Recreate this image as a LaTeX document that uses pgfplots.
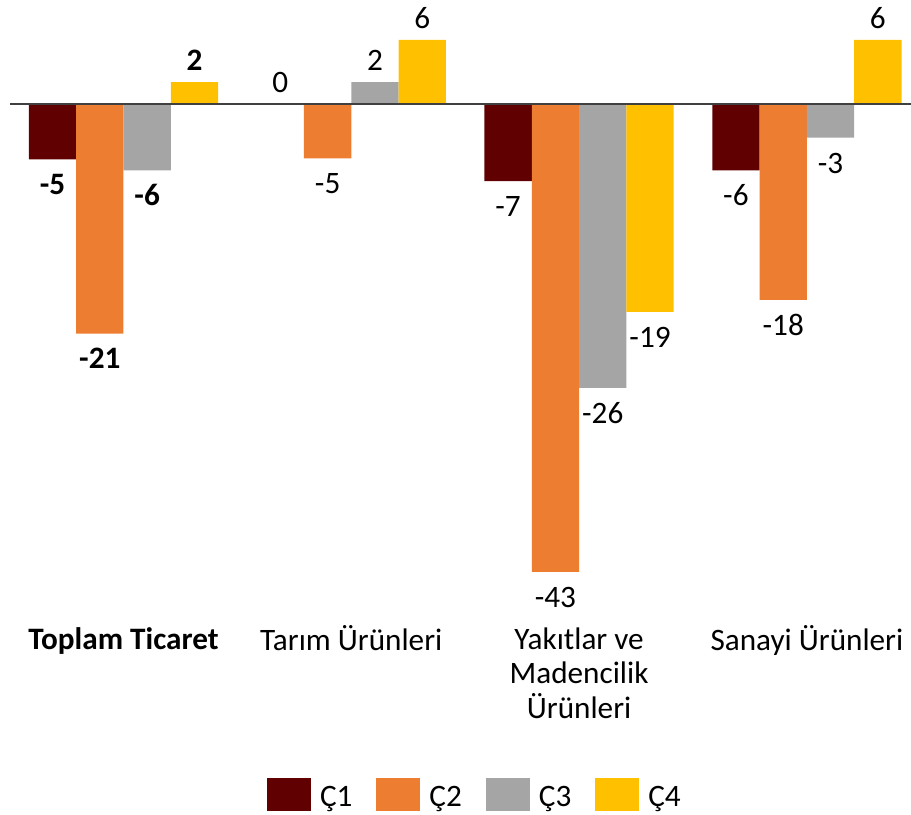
\documentclass[border=0pt]{standalone}
\usepackage{pgfplots}
\pgfplotsset{compat=1.18}
\usepackage{fontspec}
\setmainfont{Carlito}
\definecolor{cA}{HTML}{600000}
\definecolor{cB}{HTML}{ED7D31}
\definecolor{cC}{HTML}{A5A5A5}
\definecolor{cD}{HTML}{FFC000}
\begin{document}
\begin{tikzpicture}
\begin{axis}[
  scale only axis, width=455.5pt, height=310pt,
  xmin=-0.5421, xmax=3.4570, ymin=-47.43, ymax=9.559,
  enlargelimits=false, clip=false,
  axis line style={draw=none},
  ybar=0pt, bar width=0.2077,
  legend image code/.code={\fill[#1, draw=none] (0pt,-6.9pt) rectangle (22pt,9.6pt);},
  xtick={0,1,2,3},
  xticklabels={{\textbf{Toplam Ticaret}},{Tarım Ürünleri},{Yakıtlar ve\\Madencilik\\Ürünleri},{Sanayi Ürünleri}},
  major tick length=0pt, ytick=\empty,
  typeset ticklabels with strut,
  xticklabel style={font=\fontsize{15.6}{17.2}\selectfont, align=center, anchor=north, inner sep=0pt, yshift=-2.5pt, text=black},
  point meta=explicit symbolic,
  visualization depends on={rawy \as \rawy},
  nodes near coords,
  every node near coord/.append style={font=\fontsize{15.6}{18}\selectfont, text height=12pt, text depth=0pt, inner ysep=5.5pt, inner xsep=0pt, text=black,
    /utils/exec={\ifdim\rawy pt<0pt \def\myanc{north}\else\def\myanc{south}\fi},
    anchor=\myanc},
  legend columns=4,
  legend style={at={(axis cs:0.630,-63.5)}, anchor=west, draw=none, fill=none, inner sep=0pt, outer sep=0pt,
    font=\fontsize{15.6}{18}\selectfont, nodes={inner sep=0pt},
    /tikz/every odd column/.append style={column sep=4.5pt},
    /tikz/every even column/.append style={column sep=12pt}},
  legend cell align=left,
]
\addplot[fill=cA, draw=none] coordinates {(0,-5.1)[\textbf{-5}] (1,0)[0] (2,-7.1)[-7] (3,-6.1)[-6]};
\addplot[fill=cB, draw=none] coordinates {(0,-21.1)[\textbf{-21}] (1,-5.0)[-5] (2,-43.0)[-43] (3,-18.0)[-18]};
\addplot[fill=cC, draw=none] coordinates {(0,-6.1)[\textbf{-6}] (1,2.0)[2] (2,-26.1)[-26] (3,-3.1)[-3]};
\addplot[fill=cD, draw=none] coordinates {(0,2.0)[\textbf{2}] (1,5.9)[6] (2,-19.1)[-19] (3,5.9)[6]};
\legend{Ç1,Ç2,Ç3,Ç4}
\draw[black!75, line width=1pt] (axis cs:-0.5,0) -- (axis cs:3.457,0);
\coordinate (bbl) at (axis cs:-0.5421,-65.35);
\coordinate (btr) at (axis cs:3.4570,9.559);
\end{axis}
\pgfresetboundingbox
\path[use as bounding box] (bbl) rectangle (btr);
\end{tikzpicture}
\end{document}
